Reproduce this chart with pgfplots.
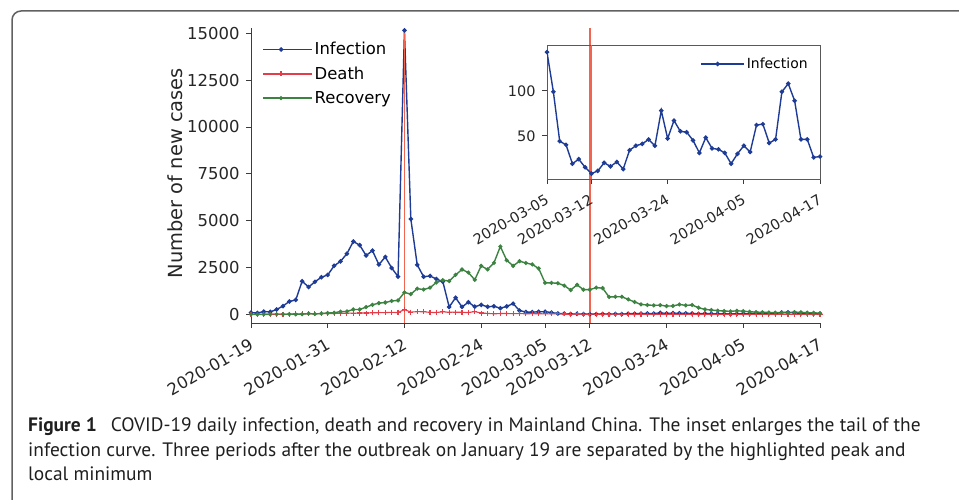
\documentclass[border=0pt]{standalone}
\usepackage{pgfplots}
\pgfplotsset{compat=1.18}
\usepackage{pgfplotstable}
\usepackage{fontspec}
\setmainfont{DejaVu Sans}
\newfontfamily\capfont{PT Sans}

\definecolor{infc}{RGB}{30,60,150}
\definecolor{deathc}{RGB}{228,60,72}
\definecolor{recc}{RGB}{60,130,65}
\definecolor{vlinec}{RGB}{240,100,80}
\definecolor{spine}{RGB}{60,60,60}

% day 0 = 2020-01-19, daily new cases in Mainland China
\pgfplotstableread{
day inf death rec
0 90 1 0
1 77 3 0
2 149 3 0
3 131 8 3
4 259 8 6
5 444 16 4
6 688 15 11
7 769 24 2
8 1771 26 9
9 1459 26 43
10 1737 38 21
11 1982 43 47
12 2102 46 72
13 2590 45 85
14 2829 57 147
15 3235 64 157
16 3887 65 262
17 3694 73 261
18 3143 73 387
19 3399 86 510
20 2656 89 600
21 3062 97 632
22 2478 108 716
23 2015 97 744
24 15152 254 1171
25 5090 121 1081
26 2641 143 1373
27 2009 142 1323
28 2048 105 1425
29 1886 98 1701
30 1749 136 1824
31 394 114 1779
32 889 118 2109
33 397 109 2393
34 648 97 2231
35 409 150 1846
36 508 71 2589
37 406 52 2397
38 433 29 2749
39 327 44 3622
40 427 47 2885
41 573 35 2589
42 202 42 2837
43 125 31 2742
44 119 38 2664
45 139 31 2449
46 143 30 1681
47 99 28 1678
48 44 27 1661
49 40 22 1535
50 19 17 1297
51 24 22 1578
52 15 11 1318
53 8 7 1318
54 11 13 1427
55 20 10 1400
56 16 14 930
57 21 13 940
58 13 11 940
59 34 8 800
60 39 3 660
61 41 7 532
62 46 6 500
63 39 9 480
64 78 7 490
65 47 4 443
66 67 6 450
67 55 5 530
68 54 3 480
69 45 5 500
70 31 4 355
71 48 1 266
72 36 7 230
73 35 6 200
74 31 4 180
75 19 4 160
76 30 3 190
77 39 2 170
78 32 0 140
79 62 2 120
80 63 2 110
81 42 1 100
82 46 3 95
83 99 0 90
84 108 2 80
85 89 0 120
86 46 0 110
87 46 1 90
88 26 0 80
89 27 0 70
}\covid

\pgfplotsset{
  legline/.style 2 args={legend image code/.code={%
    \draw[mark repeat=2,mark phase=2,##1] plot coordinates {(0bp,0bp) (#1/2,0bp) (#1,0bp)};
    \path (0bp,0bp) -- (#2,0bp);}},
  datelabels/.style={xticklabel style={rotate=30, anchor=north east, inner sep=0bp, xshift=-7bp, yshift=-7bp}},
  peakline/.style={draw=vlinec, line width=1.35bp, forget plot, mark=none},
}

\begin{document}
\begin{tikzpicture}[x=1bp,y=1bp]
\path[use as bounding box] (0,0) rectangle (959,500);
\begin{scope}
  \clip (0,0) rectangle (959,500);
  \draw[line width=1.5bp, color=black!62, rounded corners=9bp] (12,-20) -- (12,489) -- (1000,489);
\end{scope}

% main panel
\begin{axis}[
  at={(251bp,177bp)}, anchor=south west,
  width=569bp, height=295bp, scale only axis,
  xmin=0, xmax=89, ymin=-460, ymax=15280,
  axis x line*=bottom, axis y line*=left,
  axis line style={spine, line width=0.9bp, -},
  xtick={0,12,24,36,46,53,65,77,89},
  xticklabels={2020-01-19,2020-01-31,2020-02-12,2020-02-24,2020-03-05,2020-03-12,2020-03-24,2020-04-05,2020-04-17},
  ytick={0,2500,5000,7500,10000,12500,15000},
  scaled y ticks=false,
  tick align=outside, major tick length=5bp,
  tick style={spine, line width=0.8bp},
  every tick label/.append style={font=\fontsize{16.5}{19}\selectfont, text=black!85},
  /pgf/number format/assume math mode=true,
  /pgf/number format/1000 sep={},
  yticklabel style={xshift=-3bp},
  datelabels,
  every axis y label/.style={at={(axis description cs:-0.1336,0.508)}, rotate=90, anchor=center},
  ylabel={Number of new cases},
  ylabel style={font=\fontsize{19.5}{22}\selectfont, text=black!85},
  legend style={draw=none, fill=none, at={(axis description cs:0.016,0.965)}, anchor=north west,
    font=\fontsize{16.5}{19}\selectfont, row sep=6.5bp, inner sep=2bp},
  legend cell align=left, legline={36bp}{49bp},
  clip=false,
]
\addplot[infc, line width=1.4bp, mark=*, mark size=1.5bp] table[x=day,y=inf]{\covid};
\addlegendentry{Infection}
\addplot[deathc, line width=1.1bp, mark=+, mark size=2.5bp] table[x=day,y=death]{\covid};
\addlegendentry{Death}
\addplot[recc, line width=1.4bp, mark=*, mark size=1.3bp] table[x=day,y=rec]{\covid};
\addlegendentry{Recovery}
% highlighted peak and local minimum
\addplot[peakline] coordinates {(24,-460) (24,15280)};
\addplot[peakline] coordinates {(53,-460) (53,15280)};
\end{axis}

% inset: tail of the infection curve
\begin{axis}[
  at={(547bp,321bp)}, anchor=south west,
  width=273bp, height=134bp, scale only axis,
  xmin=46, xmax=89, ymin=2, ymax=151,
  axis line style={spine!85, line width=0.9bp},
  xtick={46,53,65,77,89},
  xticklabels={2020-03-05,2020-03-12,2020-03-24,2020-04-05,2020-04-17},
  ytick={50,100},
  xtick pos=bottom, ytick pos=left,
  tick align=outside, major tick length=5bp,
  tick style={spine, line width=0.8bp},
  every tick label/.append style={font=\fontsize{14.5}{17}\selectfont, text=black!85},
  /pgf/number format/assume math mode=true,
  yticklabel style={xshift=-3bp},
  datelabels,
  legend style={draw=none, fill=none, at={(axis description cs:0.97,0.935)}, anchor=north east,
    font=\fontsize{14}{17}\selectfont, inner sep=2bp},
  legend cell align=left, legline={33bp}{43bp},
]
\addplot[infc, line width=1.4bp, mark=*, mark size=1.5bp, restrict x to domain=46:89] table[x=day,y=inf]{\covid};
\addlegendentry{Infection}
\addplot[peakline] coordinates {(53,2) (53,151)};
\end{axis}

% caption
\begin{scope}[every node/.style={anchor=base west, inner sep=0, text=black!88, font=\capfont\fontsize{19.5}{22}\selectfont}]
\node at (28,68) {\textbf{Figure 1}\hspace{14bp}COVID-19 daily infection, death and recovery in Mainland China. The inset enlarges the tail of the};
\node at (28,43.5) {infection curve. Three periods after the outbreak on January 19 are separated by the highlighted peak and};
\node at (28,19) {local minimum};
\end{scope}
\end{tikzpicture}
\end{document}
